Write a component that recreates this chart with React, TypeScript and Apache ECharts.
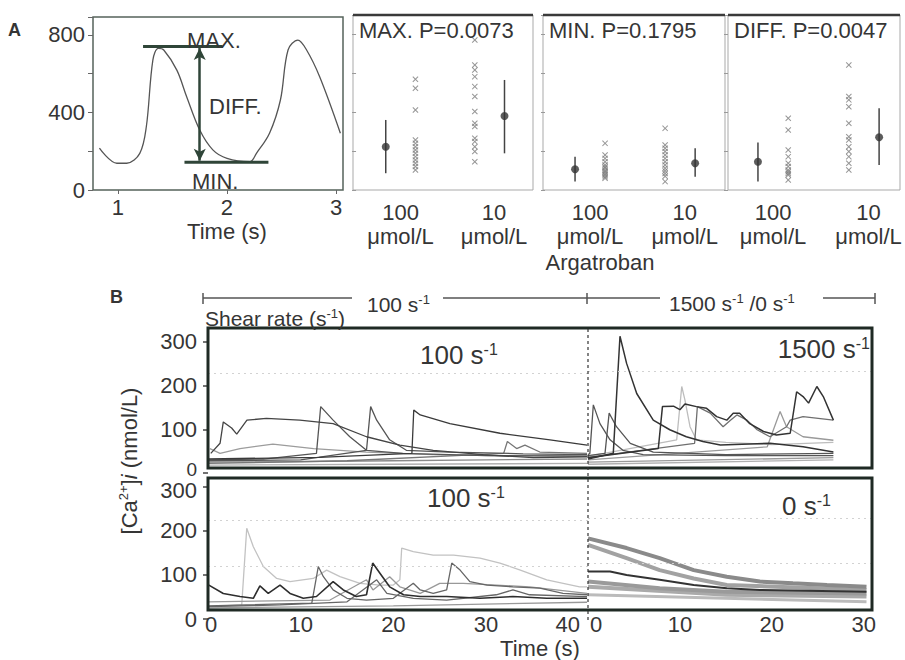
import React, { useEffect, useRef } from 'react';
import * as echarts from 'echarts';

const FONT = '"Liberation Sans", Arial, Helvetica, sans-serif';
const INK = '#353535';

// ---------- Panel A: example oscillation ----------
const waveform = [
  [0.83, 216], [0.99, 138], [1.08, 138], [1.2, 189], [1.26, 326], [1.32, 670], [1.37, 730],
  [1.42, 722], [1.54, 618], [1.63, 481], [1.75, 309], [1.87, 207], [2.0, 163], [2.21, 146],
  [2.27, 189], [2.39, 293], [2.49, 464], [2.56, 722], [2.65, 773], [2.73, 722], [2.85, 584], [3.04, 293],
];
const waveTicks = [1, 2, 3];
const maxLevel = 740;
const minLevel = 143;
const maxSpan = [1.23, 1.96];
const minSpan = [1.61, 2.38];
const arrowTime = 1.75;

// ---------- Panel A: scatter panels (slot 1 = mean 100, 2 = 100 values, 4 = 10 values, 5 = mean 10) ----------
const groupLabelPos = [1.5, 4.65];
const groupLabels = ['100\nμmol/L', '10\nμmol/L'];
const maxCross100 = [568, 522, 410, 256, 239, 222, 205, 188, 171, 154, 137, 120, 103];
const maxCross10 = [769, 641, 615, 581, 530, 479, 402, 342, 325, 265, 248, 222, 197, 145];
const maxMeans = [[1, 222, 86, 359], [5, 379, 188, 564]];
const minCross100 = [239, 179, 162, 145, 128, 118, 111, 100, 94, 85, 77, 68, 60];
const minCross10 = [316, 231, 214, 197, 179, 162, 145, 128, 111, 98, 85, 70, 43];
const minMeans = [[1, 106, 43, 171], [5, 137, 68, 214]];
const diffCross100 = [368, 308, 205, 171, 137, 120, 103, 94, 85, 77, 51];
const diffCross10 = [641, 479, 462, 427, 342, 273, 256, 222, 197, 171, 137, 103];
const diffMeans = [[1, 145, 43, 243], [5, 270, 128, 419]];
const scatterTitles = ['MAX. P=0.0073', 'MIN. P=0.1795', 'DIFF. P=0.0047'];

// ---------- Panel B: traces, 100 s-1 then 1500 s-1 (top) ----------
const tlA = [[0.3, 45], [1.3, 68], [1.65, 117], [2.55, 103], [3.1, 89], [4.2, 121], [6.3, 125], [9.9, 121], [13.5, 113], [17.1, 83], [20.7, 64], [24.3, 52], [29.7, 42], [35.1, 35], [40.9, 37]];
const tlB = [[0, 30], [6, 32], [11.7, 45], [12.16, 152], [13.5, 121], [15.3, 83], [17.1, 52], [21, 45], [30, 40], [40.9, 38]];
const tlC = [[0, 28], [10, 30], [17.1, 52], [17.55, 152], [18.2, 121], [19.6, 76], [21.4, 52], [26, 48], [34, 44], [40.9, 42]];
const tlD = [[0, 32], [12, 36], [22, 45], [22.2, 144], [22.9, 133], [26.1, 113], [31.5, 91], [36.9, 76], [40.9, 64]];
const tlE = [[0.2, 56], [1.3, 45], [3.45, 56], [7, 66], [11.4, 56], [17.1, 48], [24.3, 42], [32.5, 39], [40.9, 41]];
const tlF = [[0, 22], [15, 28], [31.9, 45], [32.3, 72], [33.3, 56], [34.2, 64], [35.8, 48], [40.9, 45]];
const tlG1 = [[0, 25], [10, 26], [20, 28], [30, 30], [40.9, 32]];
const tlG2 = [[0, 18], [20, 20], [40.9, 22]];

const trR1 = [[0, 32], [2.75, 45], [3.48, 313], [4.2, 251], [5.3, 182], [7.1, 121], [8.9, 99], [10.7, 83], [12.5, 72], [14.4, 64], [19.8, 68], [23.4, 60], [26.7, 48]];
const trR2 = [[0, 42], [0.2, 45], [0.58, 156], [1.3, 113], [2.4, 76], [3.8, 52], [6.0, 42], [15, 40], [26.7, 40]];
const trR3 = [[0, 40], [1.85, 45], [2.3, 137], [3.1, 106], [4.6, 68], [7.1, 48], [15, 42], [26.7, 45]];
const trR4 = [[0, 35], [7.65, 56], [8.1, 152], [9.3, 153], [10.0, 145], [10.55, 158], [11.8, 152], [12.9, 148], [14.0, 129], [15.1, 121], [15.8, 137], [16.5, 137], [17.6, 113], [19.1, 95], [20.5, 87], [22.0, 91], [22.7, 186], [23.4, 175], [24.0, 160], [24.9, 198], [25.6, 175], [26.7, 121]];
const trR5 = [[0, 38], [9.65, 76], [10.2, 198], [10.55, 167], [11.1, 106], [11.8, 76], [15, 70], [20, 65], [26.7, 70]];
const trR6 = [[0, 36], [11.6, 68], [11.9, 152], [13.3, 137], [14.7, 106], [15.5, 121], [16.2, 133], [17.3, 121], [18.4, 99], [19.8, 83], [21.6, 106], [22.0, 121], [23.4, 129], [26.7, 121]];
const trR7 = [[0, 30], [19.5, 60], [20.9, 141], [21.6, 106], [23.4, 83], [26.7, 75]];
const trR8 = [[0, 25], [26.7, 35]];
const trR9 = [[0, 20], [26.7, 30]];

// ---------- Panel B: traces, 100 s-1 then 0 s-1 (bottom) ----------
const blL1 = [[0, 28], [3.64, 32], [4.18, 206], [4.89, 164], [5.97, 119], [7.41, 92], [8.85, 85], [11.36, 92], [12.8, 111], [14.24, 96], [16.4, 81], [18.56, 77], [20, 77], [20.7, 89], [20.9, 161], [22.15, 153], [24.3, 145], [26.5, 145], [29.35, 138], [31.5, 127], [33.7, 111], [36.55, 89], [40.1, 73], [40.9, 73]];
const blL2 = [[0, 78], [1.65, 58], [3.45, 51], [4.89, 47], [5.6, 75], [6.5, 58], [7.77, 77], [8.85, 58], [10.28, 47], [11.7, 51], [13.5, 85], [14.6, 66], [16, 51], [17.1, 55], [17.77, 127], [18.55, 104], [19.6, 73], [21.1, 55], [22.9, 51], [25.75, 51], [29.35, 47], [32.9, 51], [36.55, 47], [40.9, 47]];
const blL3 = [[0, 30], [11.2, 36], [11.9, 119], [12.45, 96], [13.5, 66], [15, 47], [17.1, 43], [20, 47], [22.15, 81], [22.9, 66], [24.3, 58], [25.75, 66], [26.3, 127], [27.2, 111], [28.25, 85], [30.1, 77], [32.9, 73], [35.8, 70], [38.3, 58], [40.9, 55]];
const blL4 = [[0, 28], [7.77, 32], [15, 39], [18.2, 89], [19.3, 58], [22.15, 47], [25.75, 43], [31.1, 55], [32.9, 66], [34.7, 55], [40.9, 51]];
const blL5 = [[0, 39], [13.16, 43], [17.1, 89], [17.8, 66], [19.6, 96], [20.7, 73], [22.9, 58], [25, 81], [27.55, 81], [31.15, 77], [34.7, 73], [40.9, 58]];
const blL6 = [[0, 25], [20, 30], [40.9, 38]];

const brS1 = [[0, 183], [4.2, 161], [7.8, 138], [11.5, 111], [15.1, 96], [18.7, 85], [22.3, 81], [26.0, 77], [30.3, 73]];
const brS2 = [[0, 168], [4.2, 138], [7.8, 111], [11.5, 92], [15.1, 77], [30.3, 66]];
const brS3 = [[0, 108], [2.4, 108], [4.2, 100], [7.8, 89], [11.5, 77], [15.1, 70], [18.7, 66], [30.3, 62]];
const brS4 = [[0, 85], [7.8, 70], [15.1, 62], [30.3, 58]];
const brS5 = [[0, 73], [15.1, 55], [30.3, 51]];
const brS6 = [[0, 55], [30.3, 39]];

const leftTicks = [0, 10, 20, 30, 40];
const rightTicks = [0, 10, 20, 30];
const caTicks = [0, 100, 200, 300];

const CROSS = 'path://M0,1.2L1.2,0L5,3.8L8.8,0L10,1.2L6.2,5L10,8.8L8.8,10L5,6.2L1.2,10L0,8.8L3.8,5Z';

const txt = (extra: any = {}) => ({ fontSize: 22, fontFamily: FONT, color: INK, ...extra });
const supRich = (size: number) => ({
  t: { fontSize: size, fontFamily: FONT, color: INK, lineHeight: size + 2 },
  s: { fontSize: Math.round(size * 0.6), fontFamily: FONT, color: INK, verticalAlign: 'top', lineHeight: Math.round(size * 0.6) },
  i: { fontSize: size, fontFamily: FONT, color: INK, fontStyle: 'italic', lineHeight: size + 2 },
});

function gText(x: number, y: number, text: string, opts: any = {}) {
  return {
    type: 'text', x, y, z: 20, silent: true,
    style: {
      text, fontSize: 22, fontFamily: FONT, fill: INK,
      align: opts.align || 'left', verticalAlign: 'middle',
      ...(opts.rich ? { rich: opts.rich } : {}),
      ...(opts.fontWeight ? { fontWeight: opts.fontWeight } : {}),
      ...(opts.fontSize ? { fontSize: opts.fontSize } : {}),
    },
    ...(opts.rotation ? { rotation: opts.rotation } : {}),
  };
}
function gLine(x1: number, y1: number, x2: number, y2: number, stroke = '#444', lineWidth = 1.5, dash?: number[]) {
  return { type: 'line', z: 20, silent: true, shape: { x1, y1, x2, y2 }, style: { stroke, lineWidth, ...(dash ? { lineDash: dash } : {}) } };
}

function buildOption() {
  const grids: any[] = [];
  const xAxes: any[] = [];
  const yAxes: any[] = [];
  const series: any[] = [];
  const graphic: any[] = [];

  // grid 0: panel A trace
  grids.push({ left: 93, top: 17, width: 250, height: 173, show: true, borderColor: '#56635b', borderWidth: 1.5, backgroundColor: 'transparent' });
  xAxes.push({
    type: 'value', gridIndex: 0, min: 0.771, max: 3.064,
    axisLine: { show: false }, splitLine: { show: false },
    axisTick: { show: true, length: 4, customValues: waveTicks, lineStyle: { color: '#666' } },
    axisLabel: { ...txt(), margin: 6, customValues: waveTicks },
  });
  yAxes.push({
    type: 'value', gridIndex: 0, min: 0, max: 892, interval: 200,
    axisLine: { show: false }, splitLine: { show: false },
    axisTick: { show: true, length: 5, lineStyle: { color: '#666' } },
    axisLabel: { ...txt(), margin: 8, formatter: (v: number) => (v % 400 === 0 ? String(v) : '') },
  });
  series.push({ type: 'line', xAxisIndex: 0, yAxisIndex: 0, data: waveform, smooth: 0.35, showSymbol: false, symbol: 'none', silent: true, lineStyle: { color: '#555', width: 1.3 } });
  series.push({ type: 'line', xAxisIndex: 0, yAxisIndex: 0, data: maxSpan.map((t) => [t, maxLevel]), showSymbol: false, symbol: 'none', silent: true, lineStyle: { color: '#2f4538', width: 3 } });
  series.push({
    type: 'line', xAxisIndex: 0, yAxisIndex: 0, data: minSpan.map((t) => [t, minLevel]), showSymbol: false, symbol: 'none', silent: true, lineStyle: { color: '#2f4538', width: 3 },
    markLine: {
      silent: true, symbol: ['arrow', 'arrow'], symbolSize: [9, 12], label: { show: false },
      lineStyle: { color: '#2f4538', width: 2.5, type: 'solid' },
      data: [[{ coord: [arrowTime, maxLevel - 8] }, { coord: [arrowTime, minLevel + 8] }]],
    },
  });
  graphic.push(gText(187, 40, 'MAX.', { fontSize: 22 }));
  graphic.push(gText(209, 106, 'DIFF.', { fontSize: 22 }));
  graphic.push(gText(192, 181, 'MIN.', { fontSize: 22 }));
  graphic.push(gText(227, 231, 'Time (s)', { align: 'center' }));
  graphic.push(gText(8, 30, 'A', { fontWeight: 'bold', fontSize: 18 }));

  // grids 1-3: scatter panels
  const boxes = [
    { left: 353, width: 180, min: -0.103, max: 5.96 },
    { left: 543, width: 182, min: -0.067, max: 5.994 },
    { left: 728, width: 172, min: 0.011, max: 5.69 },
  ];
  const crosses = [[maxCross100, maxCross10], [minCross100, minCross10], [diffCross100, diffCross10]];
  const means = [maxMeans, minMeans, diffMeans];
  boxes.forEach((b, i) => {
    const gi = i + 1;
    grids.push({ left: b.left, top: 15, width: b.width, height: 175, show: true, borderColor: '#a9a9a9', borderWidth: 1 });
    xAxes.push({
      type: 'value', gridIndex: gi, min: b.min, max: b.max,
      axisLine: { show: false }, splitLine: { show: false }, axisTick: { show: false },
      axisLabel: {
        ...txt(), margin: 10, lineHeight: 24, customValues: groupLabelPos,
        formatter: (v: number) => (Math.abs(v - groupLabelPos[0]) < 0.01 ? groupLabels[0] : groupLabels[1]),
      },
    });
    yAxes.push({
      type: 'value', gridIndex: gi, min: 0, max: 897, interval: 200,
      axisLine: { show: false }, splitLine: { show: false },
      axisTick: { show: true, length: 4, lineStyle: { color: '#999' } },
      axisLabel: { show: false },
    });
    const [c100, c10] = crosses[i];
    series.push({
      type: 'scatter', xAxisIndex: gi, yAxisIndex: gi, silent: true, symbol: CROSS, symbolSize: 6,
      itemStyle: { color: '#7c7c7c' },
      data: [...c100.map((v) => [2, v]), ...c10.map((v) => [4, v])],
    });
    series.push({
      type: 'custom', xAxisIndex: gi, yAxisIndex: gi, silent: true,
      data: means[i],
      encode: { x: 0, y: 1 },
      renderItem: (_p: any, api: any) => {
        const a = api.coord([api.value(0), api.value(3)]);
        const c = api.coord([api.value(0), api.value(2)]);
        return { type: 'line', shape: { x1: a[0], y1: a[1], x2: c[0], y2: c[1] }, style: { stroke: '#444', lineWidth: 1.5 } };
      },
    });
    series.push({
      type: 'scatter', xAxisIndex: gi, yAxisIndex: gi, silent: true, symbol: 'circle', symbolSize: 8,
      itemStyle: { color: '#333' }, data: means[i].map((m) => [m[0], m[1]]), z: 5,
    });
    graphic.push(gLine(b.left, 15, b.left + b.width, 15, '#3a3a3a', 2.5));
    graphic.push(gText(b.left + 6, 30, scatterTitles[i], { fontSize: 22 }));
  });
  graphic.push(gText(600, 262, 'Argatroban', { align: 'center' }));

  // Panel B grids 4-7
  const bGrids = [
    { left: 208, top: 328, width: 380, height: 145, min: 0, max: 41, ymax: 332 },
    { left: 588, top: 328, width: 284, height: 145, min: 0, max: 30.9, ymax: 332 },
    { left: 208, top: 478, width: 380, height: 141, min: 0, max: 41, ymax: 320 },
    { left: 588, top: 478, width: 284, height: 141, min: 0, max: 30.9, ymax: 320 },
  ];
  bGrids.forEach((g, i) => {
    const gi = i + 4;
    grids.push({ left: g.left, top: g.top, width: g.width, height: g.height });
    const isBottom = i >= 2;
    const isLeft = i % 2 === 0;
    const ticks = isLeft ? leftTicks : rightTicks;
    xAxes.push({
      type: 'value', gridIndex: gi, min: g.min, max: g.max,
      show: isBottom,
      axisLine: { show: false }, splitLine: { show: false }, axisTick: { show: false },
      axisLabel: {
        ...txt(), margin: -3, lineHeight: 17, customValues: ticks,
        formatter: (v: number) => (isLeft && v === 40 ? '{r|40}' : !isLeft && v === 0 ? '{l|0}' : isLeft && v === 0 ? '{l0|0}' : String(v)),
        rich: {
          r: { ...txt(), lineHeight: 17, padding: [0, 22, 0, 0] },
          l: { ...txt(), lineHeight: 17, padding: [0, 0, 0, 16] },
          l0: { ...txt(), lineHeight: 17, padding: [0, 0, 0, 6] },
        },
      },
    });
    yAxes.push({
      type: 'value', gridIndex: gi, min: 0, max: g.ymax,
      show: isLeft,
      axisLine: { show: false }, splitLine: { show: false },
      axisTick: { show: true, length: 5, customValues: caTicks, lineStyle: { color: '#444', width: 1.5 } },
      axisLabel: {
        ...txt(), lineHeight: 14, margin: 11, customValues: caTicks,
        formatter: (v: number) => (!isBottom && v === 0 ? '{z|0}' : isBottom && v === 300 ? '{w|300}' : String(v)),
        rich: {
          z: { ...txt(), fontSize: 19, lineHeight: 12, padding: [0, 0, 8, 0] },
          w: { ...txt(), lineHeight: 14, padding: [8, 0, 0, 0] },
        },
      },
    });
  });
  const ls = (data: number[][], gi: number, color: string, width = 1.3, extra: any = {}) => ({
    type: 'line', xAxisIndex: gi, yAxisIndex: gi, data, showSymbol: false, symbol: 'none', silent: true,
    lineStyle: { color, width }, ...extra,
  });
  const faint = (vals: number[]) => ({
    markLine: {
      silent: true, symbol: 'none', label: { show: false },
      lineStyle: { color: '#d2d2d2', width: 1, type: [2, 4] },
      data: vals.map((v) => ({ yAxis: v })),
    },
  });
  series.push(ls(tlG2, 4, '#b0b0b0', 1.3, faint([229])));
  series.push(ls(tlG1, 4, '#8a8a8a'));
  series.push(ls(tlE, 4, '#9c9c9c'));
  series.push(ls(tlF, 4, '#777'));
  series.push(ls(tlB, 4, '#555'));
  series.push(ls(tlC, 4, '#555'));
  series.push(ls(tlD, 4, '#3a3a3a'));
  series.push(ls(tlA, 4, '#444'));

  series.push(ls(trR9, 5, '#b0b0b0', 1.3, faint([232])));
  series.push(ls(trR8, 5, '#999'));
  series.push(ls(trR5, 5, '#bdbdbd'));
  series.push(ls(trR7, 5, '#9a9a9a'));
  series.push(ls(trR6, 5, '#6f6f6f'));
  series.push(ls(trR2, 5, '#555'));
  series.push(ls(trR3, 5, '#555'));
  series.push(ls(trR4, 5, '#333', 1.5));
  series.push(ls(trR1, 5, '#333', 1.5));

  series.push(ls(blL6, 6, '#999', 1.3, faint([225, 120])));
  series.push(ls(blL1, 6, '#c2c2c2'));
  series.push(ls(blL5, 6, '#999'));
  series.push(ls(blL4, 6, '#666'));
  series.push(ls(blL3, 6, '#666'));
  series.push(ls(blL2, 6, '#2e2e2e', 1.6));

  series.push(ls(brS6, 7, '#bbbbbb', 3, faint([229, 127])));
  series.push(ls(brS5, 7, '#aaaaaa', 4));
  series.push(ls(brS4, 7, '#9a9a9a', 4));
  series.push(ls(brS2, 7, '#a2a2a2', 4));
  series.push(ls(brS1, 7, '#8a8a8a', 4));
  series.push(ls(brS3, 7, '#333', 2));

  // Panel B frames & annotations
  graphic.push({ type: 'rect', z: 15, silent: true, shape: { x: 208, y: 328, width: 664, height: 140 }, style: { fill: 'none', stroke: '#1f2a24', lineWidth: 3 } });
  graphic.push({ type: 'rect', z: 15, silent: true, shape: { x: 208, y: 478, width: 664, height: 132 }, style: { fill: 'none', stroke: '#1f2a24', lineWidth: 3 } });
  graphic.push(gLine(588, 329, 588, 620, '#333', 1.2, [3, 3]));
  // shear-rate bar
  graphic.push(gLine(203, 298, 352, 298, '#555', 1.5));
  graphic.push(gLine(203, 293, 203, 304, '#555', 1.5));
  graphic.push(gLine(443, 298, 660, 298, '#555', 1.5));
  graphic.push(gLine(587, 293, 587, 304, '#555', 1.5));
  graphic.push(gLine(823, 298, 875, 298, '#555', 1.5));
  graphic.push(gLine(875, 293, 875, 304, '#555', 1.5));
  graphic.push(gText(367, 304, '{t|100 s}{s|-1}', { rich: supRich(21) }));
  graphic.push(gText(669, 303, '{t|1500 s}{s|-1}{t| /0 s}{s|-1}', { rich: supRich(21) }));
  graphic.push(gText(205, 318, '{t|Shear rate (s}{s|-1}{t|)}', { rich: supRich(21) }));
  graphic.push(gText(420, 355, '{t|100 s}{s|-1}', { rich: supRich(26) }));
  graphic.push(gText(870, 349, '{t|1500 s}{s|-1}', { rich: supRich(26), align: 'right' }));
  graphic.push(gText(427, 498, '{t|100 s}{s|-1}', { rich: supRich(26) }));
  graphic.push(gText(782, 506, '{t|0 s}{s|-1}', { rich: supRich(26) }));
  graphic.push(gText(540, 648, 'Time (s)', { align: 'center' }));
  graphic.push(gText(129, 461, '{t|[Ca}{s|2+}{t|]}{i|i}{t| (nmol/L)}', { rich: supRich(22), align: 'center', rotation: Math.PI / 2 }));
  graphic.push(gText(110, 297, 'B', { fontWeight: 'bold', fontSize: 18 }));

  return {
    animation: false,
    backgroundColor: '#ffffff',
    textStyle: { fontFamily: FONT },
    grid: grids,
    xAxis: xAxes,
    yAxis: yAxes,
    series,
    graphic: { elements: graphic },
  };
}

export default function App() {
  const ref = useRef<HTMLDivElement>(null);
  useEffect(() => {
    if (!ref.current) return;
    const chart = echarts.init(ref.current, undefined, { renderer: 'svg' });
    chart.setOption(buildOption() as any);
    return () => chart.dispose();
  }, []);
  return <div ref={ref} style={{ position: 'fixed', left: 0, top: 0, width: 905, height: 660, background: '#fff' }} />;
}
